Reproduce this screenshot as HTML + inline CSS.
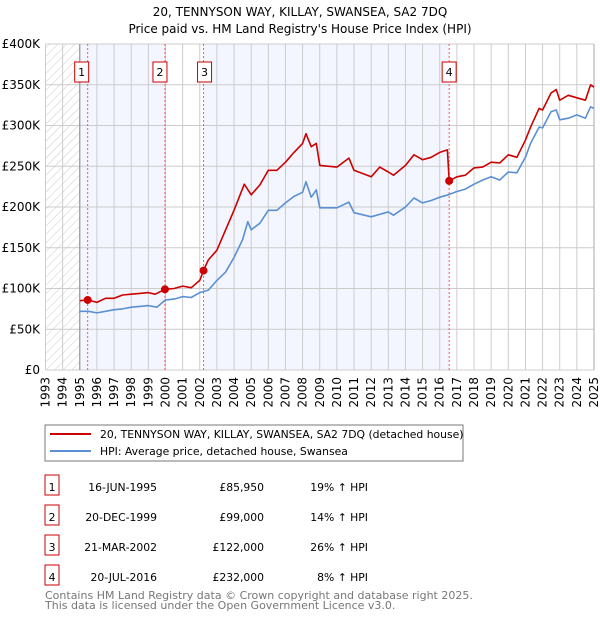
<!DOCTYPE html>
<html><head><meta charset="utf-8"><style>
body{margin:0;background:#fff;font-family:"Liberation Sans","DejaVu Sans",sans-serif;}
svg text{font-family:"DejaVu Sans","Liberation Sans",sans-serif;}
</style></head><body>
<svg id="c" width="600" height="620" xmlns="http://www.w3.org/2000/svg">
<defs><pattern id="hatch" width="6" height="6" patternUnits="userSpaceOnUse" patternTransform="rotate(45)"><line x1="0" y1="0" x2="0" y2="6" stroke="#ccc" stroke-width="1"/></pattern></defs>
<text x="300" y="16" text-anchor="middle" font-size="12" fill="#000">20, TENNYSON WAY, KILLAY, SWANSEA, SA2 7DQ</text>
<text x="300" y="33" text-anchor="middle" font-size="12" fill="#000">Price paid vs. HM Land Registry's House Price Index (HPI)</text>
<g id="plot"></g>
<rect x="45" y="425" width="418" height="36" fill="#fff" stroke="#777"/>
<line x1="50" y1="434" x2="91" y2="434" stroke="#cc0000" stroke-width="2"/>
<text x="100" y="438" font-size="10.8">20, TENNYSON WAY, KILLAY, SWANSEA, SA2 7DQ (detached house)</text>
<line x1="50" y1="451" x2="91" y2="451" stroke="#5b8fd4" stroke-width="2"/>
<text x="100" y="455" font-size="10.8">HPI: Average price, detached house, Swansea</text>
<g id="tbl" font-size="10.8"></g>
<text x="45" y="599" font-size="11" fill="#777">Contains HM Land Registry data © Crown copyright and database right 2025.</text>
<text x="45" y="609" font-size="11" fill="#777">This data is licensed under the Open Government Licence v3.0.</text>
</svg>
<script>
const yearTicks=[1993,1994,1995,1996,1997,1998,1999,2000,2001,2002,2003,2004,2005,2006,2007,2008,2009,2010,2011,2012,2013,2014,2015,2016,2017,2018,2019,2020,2021,2022,2023,2024,2025];
const valueTicks=[0,50000,100000,150000,200000,250000,300000,350000,400000];
const valueLabels=["£0","£50K","£100K","£150K","£200K","£250K","£300K","£350K","£400K"];
const hpiYears=[1995,1995.5,1996,1996.5,1997,1997.5,1998,1998.5,1999,1999.5,2000,2000.5,2001,2001.5,2002,2002.5,2003,2003.5,2004,2004.5,2004.8,2005,2005.5,2006,2006.5,2007,2007.5,2008,2008.2,2008.5,2008.8,2009,2010,2010.7,2011,2012,2013,2013.3,2014,2014.5,2015,2015.5,2016,2016.5,2017,2017.5,2018,2018.5,2019,2019.5,2020,2020.5,2021,2021.3,2021.8,2022,2022.5,2022.8,2023,2023.5,2024,2024.5,2024.8,2025];
const hpiValues=[72000,72000,70000,72000,74000,75000,77000,78000,79000,77000,86000,87000,90000,89000,95000,98000,110000,120000,138000,160000,182000,172000,180000,196000,196000,205000,213000,218000,231000,212000,221000,199000,199000,206000,193000,188000,194000,190000,200000,211000,205000,208000,212000,215000,219000,222000,228000,233000,237000,233000,243000,242000,261000,278000,298000,297000,317000,319000,307000,309000,313000,309000,323000,321000];
const priceYears=[1995,1995.46,1996,1996.5,1997,1997.5,1998,1998.5,1999,1999.4,1999.97,2000.5,2001,2001.5,2002,2002.22,2002.5,2003,2004,2004.6,2005,2005.5,2006,2006.5,2007,2007.5,2008,2008.2,2008.5,2008.8,2009,2010,2010.7,2011,2012,2012.5,2013,2013.3,2014,2014.5,2015,2015.5,2016,2016.45,2016.55,2017,2017.5,2018,2018.5,2019,2019.5,2020,2020.5,2021,2021.3,2021.8,2022,2022.5,2022.8,2023,2023.5,2024,2024.5,2024.8,2025];
const priceValues=[85000,86000,83000,88000,88000,92000,93000,94000,95000,93000,99000,100000,103000,101000,110000,122000,135000,147000,196000,228000,215000,227000,245000,245000,255000,267000,278000,290000,274000,278000,251000,249000,260000,245000,237000,249000,243000,239000,251000,264000,258000,261000,267000,270000,232000,237000,239000,248000,249000,255000,254000,264000,261000,282000,298000,321000,319000,340000,344000,331000,337000,334000,331000,350000,347000];
const saleLabels=["1","2","3","4"];
const saleYears=[1995.46,1999.97,2002.22,2016.55];
const saleValues=[85950,99000,122000,232000];
const saleDates=["16-JUN-1995","20-DEC-1999","21-MAR-2002","20-JUL-2016"];
const salePrices=["£85,950","£99,000","£122,000","£232,000"];
const saleHpi=["19% ↑ HPI","14% ↑ HPI","26% ↑ HPI","8% ↑ HPI"];

const NS="http://www.w3.org/2000/svg";
const X0=45.5,X1=594,Y0=370,Y1=44;
const xs=y=>X0+(y-1993)*(X1-X0)/32;
const ys=v=>Y0-v*(Y0-Y1)/400000;
const g=document.getElementById('plot');
function mk(t,a,p){const e=document.createElementNS(NS,t);for(const k in a)e.setAttribute(k,a[k]);(p||g).appendChild(e);return e;}
let e;
e=mk('rect',{x:X0,y:Y1,width:xs(1995)-X0,height:Y0-Y1,fill:'url(#hatch)'});


const shadeRanges=[[0,1],[2,3]];
shadeRanges.forEach(r=>{const a=saleYears[r[0]],b=saleYears[r[1]];
 e=mk('rect',{x:xs(a),y:Y1,width:xs(b)-xs(a),height:Y0-Y1,fill:'#f3f6fe'});
 
 });
e=mk('rect',{x:xs(1995),y:Y1,width:xs(saleYears[0])-xs(1995),height:Y0-Y1,fill:'#f3f6fe'});


yearTicks.forEach((y,i)=>{e=mk('line',{x1:xs(y),x2:xs(y),y1:Y1,y2:Y0,stroke:'#ccc','stroke-width':1});
 
 
 const t=mk('text',{x:0,y:0,'font-size':12,'text-anchor':'end',transform:`translate(${xs(y)+4},${Y0+7}) rotate(-90)`});t.textContent=y;
 
 });
valueTicks.forEach((v,i)=>{e=mk('line',{x1:X0,x2:X1,y1:ys(v),y2:ys(v),stroke:'#ccc','stroke-width':1});
 
 
 const t=mk('text',{x:40,y:ys(v)+4,'font-size':12,'text-anchor':'end'});t.textContent=valueLabels[i];
 
 });
e=mk('line',{x1:xs(1995),x2:xs(1995),y1:Y1,y2:Y0,stroke:'#888','stroke-width':1});


e=mk('line',{x1:X1,x2:X1,y1:Y1,y2:Y0,stroke:'#aaa','stroke-width':1});


saleYears.forEach((y,i)=>{e=mk('line',{x1:xs(y),x2:xs(y),y1:Y1,y2:Y0,stroke:'#f55','stroke-width':1,'stroke-dasharray':'2,2'});
 
 
 const gx=i==0?xs(y)-13:i==1?xs(y)-12:i==2?xs(y)-6:xs(y)-7;
 e=mk('rect',{x:gx,y:62,width:14,height:20,fill:'#fff',stroke:'#c00'});
 
 
 const t=mk('text',{x:gx+7,y:76,'font-size':11,'text-anchor':'middle'});t.textContent=saleLabels[i];
 
 });
function line(ya,va,col,name){const p=ya.map((y,i)=>xs(y).toFixed(1)+','+ys(va[i]).toFixed(1)).join(' ');
 const l=mk('polyline',{points:p,fill:'none',stroke:col,'stroke-width':1.6,'stroke-linejoin':'round'});
 
 }
line(hpiYears,hpiValues,'#5b8fd4','hpi-line');
line(priceYears,priceValues,'#cc0000','price-line');
saleYears.forEach((y,i)=>{const c=mk('circle',{cx:xs(y),cy:ys(saleValues[i]),r:4,fill:'#cc0000'});
 
 });
const tb=document.getElementById('tbl');
saleLabels.forEach((s,i)=>{const y=487+i*30;
 let r=mk('rect',{x:45,y:y-12,width:14,height:20,fill:'#fff',stroke:'#c00'},tb);
 
 
 const cells=[[52,'middle',s],[157,'end',saleDates[i]],[264,'end',salePrices[i]],[368,'end',saleHpi[i]]];
 cells.forEach(c=>{const t=mk('text',{x:c[0],y:y+4,'text-anchor':c[1]},tb);t.textContent=c[2];
  
  });});
</script>
</body></html>
